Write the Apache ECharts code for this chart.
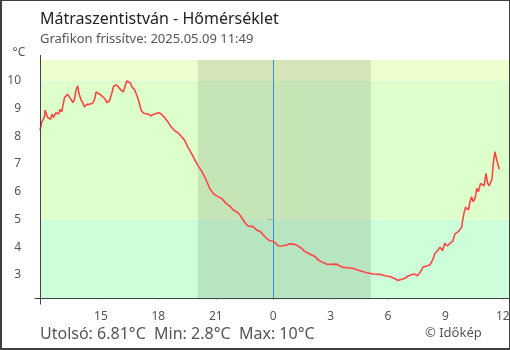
<!DOCTYPE html>
<html><head><meta charset="utf-8">
<script src="https://cdn.jsdelivr.net/npm/echarts@6/dist/echarts.min.js"></script>
<style>
html,body{margin:0;padding:0;background:#fff;}
#wrap{position:relative;width:510px;height:350px;overflow:hidden;background:#fff;}
#chart{position:absolute;left:0;top:0;width:540px;height:350px;}
#frame{position:absolute;left:0;top:0;width:510px;height:350px;box-sizing:border-box;border:1px solid #404040;border-left-width:2px;border-bottom-width:2px;pointer-events:none;}
</style></head>
<body><div id="wrap"><div id="chart"></div><div id="frame"></div></div>
<script>
// ---- data ----
const titleText = "Mátraszentistván - Hőmérséklet";
const subtitleText = "Grafikon frissítve: 2025.05.09 11:49";
const unitText = "°C";
const footerText = "Utolsó: 6.81°C  Min: 2.8°C  Max: 10°C";
const creditText = "© Időkép";

const times = ["11:49","11:55","11:58","12:03","12:05","12:10","12:13","12:22","12:27","12:31","12:39","12:47","12:52","12:57","13:00","13:06","13:11","13:16","13:21","13:26","13:32","13:37","13:42","13:47","13:51","13:58","14:03","14:08","14:16","14:24","14:34","14:40","14:45","14:52","15:00","15:11","15:19","15:27","15:34","15:40","15:48","15:55","16:03","16:10","16:16","16:21","16:26","16:33","16:38","16:45","16:50","16:58","17:06","17:14","17:27","17:37","17:48","18:01","18:09","18:19","18:30","18:40","18:51","19:01","19:11","19:22","19:32","19:43","19:53","20:04","20:14","20:25","20:33","20:41","20:52","21:02","21:18","21:34","21:44","21:55","22:05","22:16","22:26","22:34","22:42","22:57","23:08","23:20","23:29","23:39","23:50","00:00","00:08","00:16","00:31","00:42","00:52","01:08","01:18","01:29","01:39","01:50","02:00","02:11","02:21","02:32","02:47","03:03","03:19","03:29","03:40","03:55","04:11","04:30","04:53","05:14","05:35","05:50","06:06","06:22","06:32","06:43","06:53","07:03","07:14","07:24","07:32","07:40","07:50","08:01","08:11","08:20","08:27","08:34","08:43","08:51","08:58","09:06","09:14","09:23","09:30","09:40","09:51","09:54","09:58","10:03","10:12","10:17","10:22","10:27","10:33","10:38","10:43","10:50","10:55","11:01","11:07","11:12","11:17","11:22","11:26","11:30","11:35","11:41","11:45","11:49"];
const temps = [8.22,8.52,8.46,8.70,8.94,8.92,8.68,8.61,8.79,8.68,8.85,8.80,8.97,8.88,9.06,9.40,9.33,9.51,9.58,9.33,9.21,9.33,9.66,9.82,9.55,9.30,9.22,9.06,9.15,9.15,9.19,9.33,9.60,9.55,9.48,9.37,9.21,9.28,9.55,9.81,9.85,9.78,9.66,9.60,9.81,10.0,9.94,9.91,9.76,9.69,9.55,9.30,8.94,8.83,8.80,8.74,8.80,8.85,8.80,8.68,8.52,8.34,8.20,8.13,8.01,7.86,7.62,7.40,7.18,6.95,6.77,6.54,6.34,6.12,5.94,5.85,5.76,5.56,5.48,5.34,5.28,5.16,4.98,4.84,4.76,4.74,4.62,4.56,4.44,4.32,4.23,4.22,4.14,4.04,4.05,4.08,4.12,4.10,4.04,3.96,3.84,3.78,3.72,3.66,3.54,3.47,3.39,3.38,3.39,3.32,3.27,3.26,3.23,3.16,3.08,3.03,3.02,2.97,2.94,2.86,2.80,2.84,2.88,2.96,3.01,3.03,2.97,3.08,3.28,3.32,3.36,3.54,3.78,3.85,4.00,3.87,4.14,4.04,4.14,4.22,4.48,4.56,4.72,4.98,5.22,5.44,5.34,5.64,5.82,5.64,5.76,6.12,6.00,6.30,6.34,6.21,6.66,6.32,6.21,6.24,6.45,7.02,7.44,7.14,6.96,6.81];
const xTicks = [-9,-6,-3,0,3,6,9,12];
const yTicks = [3,4,5,6,7,8,9,10];
const sunset = "20:04";   // previous day
const sunrise = "05:06";
const midnight = "00:00";
const bandLimits = [5,10];
const startTime = "11:49"; // previous day, left edge of the axis
const xMax = 13;
const yMin = 2.12;
const yMax = 10.75;

// ---- build ----
function hm(s){const p=s.split(':');return (+p[0])+(+p[1])/60;}
const xMin = hm(startTime) - 24;
const lineData = [];
let dayOff = -24, prev = -1;
times.forEach((t,i)=>{const h=hm(t); if(h<prev) dayOff=0; prev=h; lineData.push([dayOff+h, temps[i]]);});
const sunsetX = hm(sunset)-24, sunriseX = hm(sunrise), midX = hm(midnight);

const FONT = '"Noto Sans", "Open Sans", sans-serif';
const AX = '#444';
const chart = echarts.init(document.getElementById('chart'), null, {renderer:'canvas'});
const option = {
  animation:false,
  grid:{left:40, right:18, top:60, bottom:50.7, containLabel:false, outerBoundsMode:'none'},
  xAxis:{type:'value', min:xMin, max:xMax,
    axisLine:{show:false},
    axisTick:{show:true, inside:true, length:6, lineStyle:{color:AX}, customValues:xTicks},
    axisLabel:{show:true, customValues:xTicks, margin:11, color:'#555', fontSize:12, fontFamily:FONT,
      formatter:v=>String(((Math.round(v)%24)+24)%24)},
    splitLine:{show:false}},
  yAxis:{type:'value', min:yMin, max:yMax,
    axisLine:{show:false},
    axisTick:{show:true, inside:false, length:6, lineStyle:{color:AX}, customValues:yTicks},
    axisLabel:{show:true, customValues:yTicks, margin:19, color:'#555', fontSize:12, fontFamily:FONT},
    splitLine:{show:false}},
  series:[
    {type:'line', data:lineData, z:1, silent:true, showSymbol:false, lineStyle:{opacity:0},
     markArea:{silent:true, label:{show:false}, data:[
       [{yAxis:yMin, itemStyle:{color:'#ccffd9'}},{yAxis:bandLimits[0]}],
       [{yAxis:bandLimits[0], itemStyle:{color:'#dcffcc'}},{yAxis:bandLimits[1]}],
       [{yAxis:bandLimits[1], itemStyle:{color:'#eeffcf'}},{yAxis:yMax}]
     ]}},
    {type:'line', data:lineData, z:2, silent:true, showSymbol:false, lineStyle:{opacity:0},
     markArea:{silent:true, label:{show:false}, data:[[{xAxis:sunsetX, itemStyle:{color:'rgba(0,0,0,0.1)'}},{xAxis:sunriseX}]]}},
    {type:'line', data:lineData, z:5, showSymbol:false, silent:true,
     lineStyle:{color:'#ff4545', width:1.6}},
    {type:'line', data:lineData, z:6, silent:true, showSymbol:false, lineStyle:{opacity:0},
     markLine:{silent:true, symbol:['none','none'], label:{show:false},
       lineStyle:{color:'#3a8fcc', width:1, type:'solid'}, data:[{xAxis:midX}]}}
  ]
};
chart.setOption(option);

const p0 = chart.convertToPixel({gridIndex:0},[xMin,yMin]);
const p1 = chart.convertToPixel({gridIndex:0},[xMin,yMax]);
const ax = Math.round(p0[0])+0.5, ay = Math.round(p0[1])-0.5;
function txt(str, x, baseline, fs, color){
  return {type:'text', z:20, x:x, y:baseline-0.285*fs,
    style:{text:str, font:fs+'px '+FONT, fill:color, verticalAlign:'middle', align:'left'}};
}
chart.setOption({graphic:[
  {type:'line', z:10, shape:{x1:ax, y1:Math.round(p1[1])-5, x2:ax, y2:ay+6}, style:{stroke:AX, lineWidth:1}},
  {type:'line', z:10, shape:{x1:ax-6, y1:ay, x2:540, y2:ay}, style:{stroke:AX, lineWidth:1}},
  txt(titleText, 40, 24, 16, '#222'),
  txt(subtitleText, 40, 42.7, 13, '#555'),
  txt(unitText, 12.5, 56, 12, '#555'),
  txt(footerText, 40, 339, 16, '#555'),
  txt(creditText, 425, 336.7, 13, '#555')
]});
</script>
</body></html>
